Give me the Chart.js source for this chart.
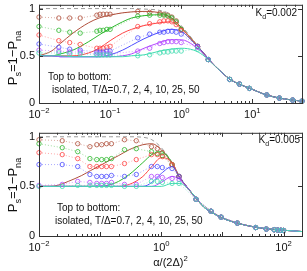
<!DOCTYPE html>
<html>
<head>
<meta charset="utf-8">
<script src="https://cdn.jsdelivr.net/npm/chart.js@4.4.1/dist/chart.umd.min.js"></script>
<style>
  html, body { margin: 0; padding: 0; background: #fff; }
  #wrap { position: relative; width: 307px; height: 271px; }
  canvas { position: absolute; left: 0; }
</style>
</head>
<body>
<div id="wrap">
  <canvas id="topChart" width="307" height="128" style="top:0"></canvas>
  <canvas id="bottomChart" width="307" height="143" style="top:128px"></canvas>
</div>
<script>
// series order: T/Delta = 0.7, 2, 4, 10, 25, 50
const seriesColors = ['#b0503c', '#2eb82e', '#ff4545', '#4d4dff', '#b347ff', '#40dcb0'];
const isolatedColor = '#9a9a9a';

// ---- top panel, Kd = 0.002 ----
const topMarkX = [0.01, 0.019, 0.027, 0.038, 0.065, 0.072, 0.08, 0.09, 0.1, 0.245, 0.36, 0.5, 0.57, 0.65, 0.74, 0.85, 1.0, 1.7, 2.4, 4.8, 6.6, 9.1, 16, 24, 37, 50];
const topMarkBrown  = [0.91, 0.90, 0.90, 0.90, 0.93, 0.94, 0.94, 0.94, 0.94, 0.97, 0.96, 0.95, 0.94, 0.93, 0.91, 0.87, 0.78, 0.60, 0.46, 0.25, 0.20, 0.155, 0.085, 0.052, 0.031, 0.02];
const topMarkGreen  = [0.81, 0.77, 0.75, 0.74, 0.76, 0.77, 0.77, 0.78, 0.78, 0.92, 0.93, 0.93, 0.93, 0.92, 0.90, 0.86, 0.78, 0.60, 0.46, 0.25, 0.20, 0.155, 0.085, 0.052, 0.031, 0.02];
const topMarkRed    = [0.72, 0.66, 0.64, 0.62, 0.58, 0.58, 0.58, 0.59, 0.60, 0.81, 0.84, 0.86, 0.87, 0.87, 0.86, 0.83, 0.77, 0.60, 0.46, 0.25, 0.20, 0.155, 0.085, 0.052, 0.031, 0.02];
const topMarkBlue   = [0.625, 0.59, 0.57, 0.56, 0.54, 0.54, 0.54, 0.55, 0.55, 0.69, 0.73, 0.75, 0.75, 0.76, 0.76, 0.75, 0.73, 0.60, 0.46, 0.25, 0.20, 0.155, 0.085, 0.052, 0.031, 0.02];
const topMarkPurple = [0.56, 0.55, 0.54, 0.54, 0.52, 0.52, 0.52, 0.52, 0.52, 0.55, 0.58, 0.63, 0.64, 0.65, 0.65, 0.65, 0.64, 0.59, 0.46, 0.25, 0.20, 0.155, 0.085, 0.052, 0.031, 0.02];
const topMarkCyan   = [0.53, 0.53, 0.52, 0.52, 0.51, 0.51, 0.51, 0.51, 0.51, 0.50, 0.51, 0.53, 0.54, 0.54, 0.55, 0.55, 0.55, 0.57, 0.46, 0.25, 0.20, 0.155, 0.085, 0.052, 0.031, 0.02];

const topCurveX = [0.01, 0.015, 0.02, 0.03, 0.05, 0.07, 0.1, 0.15, 0.2, 0.3, 0.5, 0.7, 1, 1.5, 2, 3, 5, 7, 10, 15, 20, 30, 50];
const topIsolated    = [1, 1, 1, 1, 1, 1, 1, 1, 1, 0.995, 0.98, 0.94, 0.82, 0.66, 0.54, 0.39, 0.245, 0.19, 0.145, 0.09, 0.065, 0.04, 0.02];
const topCurveBrown  = [0.50, 0.55, 0.63, 0.74, 0.85, 0.90, 0.93, 0.955, 0.965, 0.97, 0.955, 0.91, 0.80, 0.65, 0.54, 0.39, 0.245, 0.19, 0.145, 0.09, 0.065, 0.04, 0.02];
const topCurveGreen  = [0.50, 0.50, 0.52, 0.56, 0.65, 0.72, 0.79, 0.86, 0.90, 0.925, 0.935, 0.91, 0.80, 0.65, 0.54, 0.39, 0.245, 0.19, 0.145, 0.09, 0.065, 0.04, 0.02];
const topCurveRed    = [0.50, 0.50, 0.50, 0.50, 0.53, 0.58, 0.66, 0.74, 0.78, 0.82, 0.85, 0.86, 0.79, 0.65, 0.54, 0.39, 0.245, 0.19, 0.145, 0.09, 0.065, 0.04, 0.02];
const topCurveBlue   = [0.50, 0.50, 0.49, 0.49, 0.49, 0.49, 0.51, 0.56, 0.61, 0.68, 0.75, 0.78, 0.76, 0.64, 0.54, 0.39, 0.245, 0.19, 0.145, 0.09, 0.065, 0.04, 0.02];
const topCurvePurple = [0.50, 0.50, 0.49, 0.49, 0.49, 0.49, 0.49, 0.50, 0.52, 0.58, 0.64, 0.67, 0.67, 0.61, 0.53, 0.39, 0.245, 0.19, 0.145, 0.09, 0.065, 0.04, 0.02];
const topCurveCyan   = [0.50, 0.50, 0.50, 0.49, 0.49, 0.49, 0.49, 0.49, 0.50, 0.51, 0.55, 0.57, 0.58, 0.56, 0.51, 0.39, 0.245, 0.19, 0.145, 0.09, 0.065, 0.04, 0.02];

// ---- bottom panel, Kd = 0.005 ----
const botMarkX = [0.01, 0.024, 0.043, 0.068, 0.088, 0.106, 0.127, 0.153, 0.25, 0.39, 0.69, 0.86, 1.04, 1.5, 1.95, 3.7, 6.5, 9.5, 17.5, 35, 52, 70, 80, 90, 100];
const botMarkBrown  = [0.97, 0.96, 0.93, 0.90, 0.92, 0.92, 0.93, 0.93, 0.97, 0.96, 0.90, 0.88, 0.84, 0.72, 0.60, 0.37, 0.25, 0.19, 0.13, 0.085, 0.07, 0.063, 0.06, 0.058, 0.056];
const botMarkGreen  = [0.93, 0.89, 0.85, 0.78, 0.77, 0.77, 0.77, 0.78, 0.87, 0.88, 0.85, 0.83, 0.81, 0.72, 0.60, 0.37, 0.25, 0.19, 0.13, 0.085, 0.07, 0.063, 0.06, 0.058, 0.056];
const botMarkRed    = [0.84, 0.82, 0.78, 0.70, 0.70, 0.70, 0.70, 0.70, 0.73, 0.77, 0.82, 0.82, 0.80, 0.72, 0.60, 0.37, 0.25, 0.19, 0.13, 0.085, 0.07, 0.063, 0.06, 0.058, 0.056];
const botMarkBlue   = [0.72, 0.72, 0.70, 0.62, 0.60, 0.60, 0.60, 0.61, 0.60, 0.62, 0.70, 0.70, 0.69, 0.68, 0.60, 0.37, 0.25, 0.19, 0.13, 0.085, 0.07, 0.063, 0.06, 0.058, 0.056];
const botMarkPurple = [0.51, 0.52, 0.55, 0.54, 0.53, 0.53, 0.53, 0.54, 0.52, 0.52, 0.60, 0.60, 0.59, 0.58, 0.57, 0.37, 0.25, 0.19, 0.13, 0.085, 0.07, 0.063, 0.06, 0.058, 0.056];
const botMarkCyan   = [0.50, 0.50, 0.51, 0.51, 0.51, 0.51, 0.51, 0.51, 0.50, 0.50, 0.55, 0.55, 0.54, 0.53, 0.53, 0.37, 0.25, 0.19, 0.13, 0.085, 0.07, 0.063, 0.06, 0.058, 0.056];

const botCurveX = [0.01, 0.015, 0.02, 0.03, 0.05, 0.07, 0.1, 0.15, 0.2, 0.3, 0.5, 0.7, 1, 1.5, 2, 3, 5, 7, 10, 20, 50, 100, 200];
const botIsolated    = [1, 1, 1, 1, 1, 1, 1, 1, 1, 1, 0.995, 0.97, 0.89, 0.74, 0.60, 0.45, 0.29, 0.23, 0.18, 0.12, 0.075, 0.058, 0.045];
const botCurveBrown  = [0.50, 0.50, 0.51, 0.55, 0.61, 0.66, 0.71, 0.77, 0.81, 0.87, 0.92, 0.93, 0.87, 0.73, 0.59, 0.45, 0.29, 0.23, 0.18, 0.12, 0.075, 0.058, 0.045];
const botCurveGreen  = [0.50, 0.50, 0.50, 0.50, 0.50, 0.50, 0.50, 0.52, 0.55, 0.62, 0.74, 0.82, 0.85, 0.74, 0.59, 0.45, 0.29, 0.23, 0.18, 0.12, 0.075, 0.058, 0.045];
const botCurveRed    = [0.50, 0.50, 0.50, 0.50, 0.50, 0.50, 0.50, 0.50, 0.50, 0.52, 0.60, 0.70, 0.79, 0.74, 0.59, 0.45, 0.29, 0.23, 0.18, 0.12, 0.075, 0.058, 0.045];
const botCurveBlue   = [0.50, 0.50, 0.50, 0.50, 0.50, 0.50, 0.50, 0.50, 0.50, 0.50, 0.50, 0.54, 0.63, 0.70, 0.59, 0.45, 0.29, 0.23, 0.18, 0.12, 0.075, 0.058, 0.045];
const botCurvePurple = [0.50, 0.50, 0.50, 0.50, 0.50, 0.50, 0.50, 0.50, 0.50, 0.50, 0.50, 0.50, 0.54, 0.60, 0.57, 0.45, 0.29, 0.23, 0.18, 0.12, 0.075, 0.058, 0.045];
const botCurveCyan   = [0.50, 0.50, 0.50, 0.50, 0.50, 0.50, 0.50, 0.50, 0.50, 0.50, 0.50, 0.50, 0.50, 0.53, 0.53, 0.45, 0.29, 0.23, 0.18, 0.12, 0.075, 0.058, 0.045];

const yTicks = [0, 0.5, 1];
const fontFam = '"Liberation Sans", Arial, sans-serif';

function pts(xs, ys) {
    return xs.map((x, i) => ({ x: x, y: ys[i] }));
}

function buildDatasets(curveX, iso, curves, markX, marks) {
    const ds = [];
    ds.push({
        data: pts(curveX, iso), showLine: true, borderColor: isolatedColor, borderWidth: 1,
        borderDash: [4, 3], pointRadius: 0, cubicInterpolationMode: 'monotone', clip: false, order: 30
    });
    curves.forEach((ys, i) => ds.push({
        data: pts(curveX, ys), showLine: true, borderColor: seriesColors[i], borderWidth: 1,
        pointRadius: 0, cubicInterpolationMode: 'monotone', clip: false, order: 25 - i
    }));
    marks.forEach((ys, i) => ds.push({
        data: pts(markX, ys), showLine: true, borderColor: seriesColors[i] + '99', borderWidth: 0.8,
        borderDash: [1, 2], pointRadius: 2.2, pointBorderWidth: 0.8,
        pointBorderColor: seriesColors[i], pointBackgroundColor: 'rgba(0,0,0,0)', clip: false, order: 15 - i
    }));
    return ds;
}

// draw text with sub/superscripts, parts = [{t, sub, sup}]
function richWidth(ctx, parts, size) {
    let w = 0;
    parts.forEach(p => {
        const s = (p.sub || p.sup) ? size * 0.7 : size;
        ctx.font = s + 'px ' + fontFam;
        w += ctx.measureText(p.t).width;
    });
    return w;
}
function drawRich(ctx, parts, x, y, size) {
    ctx.textAlign = 'left';
    ctx.textBaseline = 'alphabetic';
    parts.forEach(p => {
        const s = (p.sub || p.sup) ? size * 0.7 : size;
        ctx.font = s + 'px ' + fontFam;
        let dy = 0;
        if (p.sub) dy = size * 0.3;
        if (p.sup) dy = -size * 0.45;
        ctx.fillText(p.t, x, y + dy);
        x += ctx.measureText(p.t).width;
    });
}

const matlabAxes = {
    id: 'matlabAxes',
    afterDraw(chart, args, o) {
        const ctx = chart.ctx, a = chart.chartArea;
        const xs = chart.scales.x, ys = chart.scales.y;
        ctx.save();
        ctx.strokeStyle = '#333';
        ctx.lineWidth = 1;
        ctx.strokeRect(a.left + 0.5, a.top + 0.5, a.right - a.left, a.bottom - a.top);
        ctx.beginPath();
        for (let k = -2; k <= 3; k++) {
            for (let m = 1; m < 10; m++) {
                const v = m * Math.pow(10, k);
                if (v < xs.min * 0.999 || v > xs.max * 1.001) continue;
                const px = Math.round(xs.getPixelForValue(v)) + 0.5;
                const len = m === 1 ? 4 : 2;
                ctx.moveTo(px, a.bottom); ctx.lineTo(px, a.bottom - len);
                ctx.moveTo(px, a.top); ctx.lineTo(px, a.top + len);
            }
        }
        yTicks.forEach(v => {
            const py = Math.round(ys.getPixelForValue(v)) + 0.5;
            ctx.moveTo(a.left, py); ctx.lineTo(a.left + 4, py);
            ctx.moveTo(a.right, py); ctx.lineTo(a.right - 4, py);
        });
        ctx.stroke();

        ctx.fillStyle = '#111';
        // y tick labels
        ctx.font = '11px ' + fontFam;
        ctx.textAlign = 'right';
        ctx.textBaseline = 'middle';
        yTicks.forEach(v => ctx.fillText(String(v), a.left - 4, ys.getPixelForValue(v)));
        // x tick labels 10^k
        o.xExps.forEach(k => {
            const parts = [{ t: '10' }, { t: k < 0 ? '\u2212' + (-k) : String(k), sup: true }];
            const w = richWidth(ctx, parts, 11);
            drawRich(ctx, parts, xs.getPixelForValue(Math.pow(10, k)) - w / 2, a.bottom + 15, 11);
        });
        // y axis title
        const yt = [{ t: 'P' }, { t: 's', sub: true }, { t: '=1\u2212P' }, { t: 'na', sub: true }];
        ctx.save();
        ctx.translate(o.yTitleX, o.yTitleY);
        ctx.rotate(-Math.PI / 2);
        drawRich(ctx, yt, -richWidth(ctx, yt, 13) / 2, 0, 13);
        ctx.restore();
        // Kd label
        const kd = [{ t: 'K' }, { t: 'd', sub: true }, { t: '=' + o.kd }];
        drawRich(ctx, kd, o.kdRight - richWidth(ctx, kd, 10), o.kdY, 10);
        // notes
        ctx.font = '10px ' + fontFam;
        ctx.textAlign = 'left';
        ctx.textBaseline = 'alphabetic';
        ctx.fillText('Top to bottom:', o.note1[0], o.note1[1]);
        ctx.fillText('isolated, T/\u0394=0.7, 2, 4, 10, 25, 50', o.note2[0], o.note2[1]);
        // x axis title
        if (o.xTitle) {
            const xt = [{ t: '\u03b1/(2\u0394)' }, { t: '2', sup: true }];
            drawRich(ctx, xt, (a.left + a.right) / 2 - richWidth(ctx, xt, 11) / 2, o.xTitleY, 11);
        }
        ctx.restore();
    }
};

function makeConfig(datasets, xMax, padBottom, padTop, axisOpts) {
    return {
        type: 'scatter',
        data: { datasets: datasets },
        options: {
            responsive: false,
            animation: false,
            devicePixelRatio: 1,
            layout: { padding: { left: 39, right: 5, top: padTop, bottom: padBottom } },
            scales: {
                x: { type: 'logarithmic', min: 0.01, max: xMax, display: false },
                y: { min: 0, max: 1.04, display: false }
            },
            plugins: {
                legend: { display: false },
                tooltip: { enabled: false },
                matlabAxes: axisOpts
            }
        },
        plugins: [matlabAxes]
    };
}

const topChart = new Chart(
    document.getElementById('topChart'),
    makeConfig(
        buildDatasets(topCurveX, topIsolated,
            [topCurveBrown, topCurveGreen, topCurveRed, topCurveBlue, topCurvePurple, topCurveCyan],
            topMarkX, [topMarkBrown, topMarkGreen, topMarkRed, topMarkBlue, topMarkPurple, topMarkCyan]),
        50, 25, 4,
        { xExps: [-2, -1, 0, 1], kd: '0.002', kdRight: 297, kdY: 16, yTitleX: 17, yTitleY: 58,
          note1: [48, 80], note2: [52, 93], xTitle: false })
);

const bottomChart = new Chart(
    document.getElementById('bottomChart'),
    makeConfig(
        buildDatasets(botCurveX, botIsolated,
            [botCurveBrown, botCurveGreen, botCurveRed, botCurveBlue, botCurvePurple, botCurveCyan],
            botMarkX, [botMarkBrown, botMarkGreen, botMarkRed, botMarkBlue, botMarkPurple, botMarkCyan]),
        200, 35, 3,
        { xExps: [-2, 0, 2], kd: '0.005', kdRight: 300, kdY: 15, yTitleX: 17, yTitleY: 57,
          note1: [57, 83], note2: [55, 96], xTitle: true, xTitleY: 138 })
);
</script>
</body>
</html>
